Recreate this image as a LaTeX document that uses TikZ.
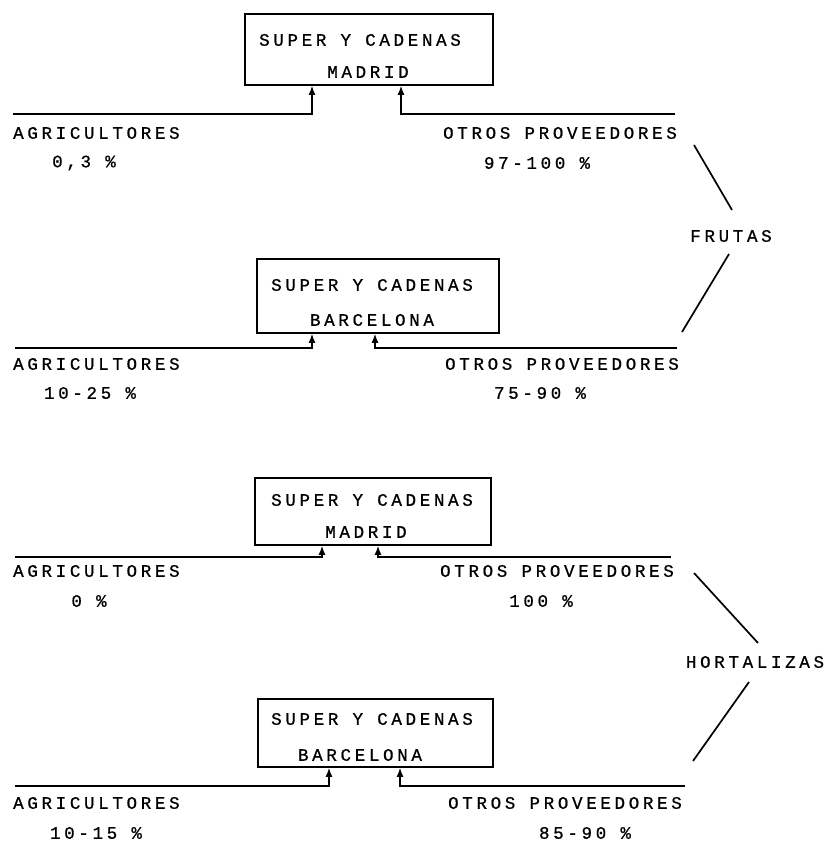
\documentclass[tikz,border=0pt]{standalone}
\usepackage{fontspec}
\usetikzlibrary{arrows.meta}
\newfontfamily\tw[LetterSpace=21,FakeBold=0.8]{Liberation Mono}
\begin{document}
\begin{tikzpicture}[x=1pt,y=-1pt,
  txt/.style={inner sep=0pt,font=\tw\fontsize{17.5}{20}\selectfont},
  boxx/.style={draw,line width=1.6pt,inner sep=0pt},
  feed/.style={line width=1.5pt,-{Latex[length=9pt,width=7pt]}},
  diag/.style={line width=1.7pt}]
\useasboundingbox (0,0) rectangle (828,845);
\fill[white] (0,0) rectangle (828,845);

% ---------- group 1 : FRUTAS / MADRID
\node[boxx,minimum width=248pt,minimum height=71pt] (b1) at (369,49.5) {};
\node[txt] (b1t) at (360,40) {SUPER Y CADENAS};
\node[txt] (b1c) at (368,72) {MADRID};
\coordinate (l1) at (13,114);
\coordinate (l1k) at (312,114);
\coordinate (r1) at (675,114);
\coordinate (r1k) at (401,114);
\draw[feed] (l1) -- (l1k) -- (l1k |- b1.south);
\draw[feed] (r1) -- (r1k) -- (r1k |- b1.south);
\node[txt,anchor=west] (a1) at (13,133) {AGRICULTORES};
\node[txt,anchor=east] (o1) at (677,133) {OTROS PROVEEDORES};
\node[txt] (p1) at (84,163) {0,3 \%};
\node[txt] (q1) at (537,163) {97-100 \%};

% ---------- group 2 : FRUTAS / BARCELONA
\node[boxx,minimum width=242pt,minimum height=74pt] (b2) at (378,296) {};
\node[txt] (b2t) at (372,285) {SUPER Y CADENAS};
\node[txt] (b2c) at (372,320) {BARCELONA};
\coordinate (l2) at (15,348);
\coordinate (l2k) at (312,348);
\coordinate (r2) at (677,348);
\coordinate (r2k) at (375,348);
\draw[feed] (l2) -- (l2k) -- (l2k |- b2.south);
\draw[feed] (r2) -- (r2k) -- (r2k |- b2.south);
\node[txt,anchor=west] (a2) at (13,364) {AGRICULTORES};
\node[txt,anchor=east] (o2) at (679,364) {OTROS PROVEEDORES};
\node[txt] (p2) at (90,393) {10-25 \%};
\node[txt] (q2) at (540,393) {75-90 \%};

% ---------- FRUTAS
\node[txt] (fr) at (731,236) {FRUTAS};
\coordinate (f1) at (694,145);
\coordinate (f2) at (732,210);
\coordinate (f3) at (729,254);
\coordinate (f4) at (682,332);
\draw[diag] (f1) -- (f2);
\draw[diag] (f3) -- (f4);

% ---------- group 3 : HORTALIZAS / MADRID
\node[boxx,minimum width=236pt,minimum height=67pt] (b3) at (373,511.5) {};
\node[txt] (b3t) at (372,500) {SUPER Y CADENAS};
\node[txt] (b3c) at (366,532) {MADRID};
\coordinate (l3) at (15,557);
\coordinate (l3k) at (322,557);
\coordinate (r3) at (671,557);
\coordinate (r3k) at (378,557);
\draw[feed] (l3) -- (l3k) -- (l3k |- b3.south);
\draw[feed] (r3) -- (r3k) -- (r3k |- b3.south);
\node[txt,anchor=west] (a3) at (13,571) {AGRICULTORES};
\node[txt,anchor=east] (o3) at (674,571) {OTROS PROVEEDORES};
\node[txt] (p3) at (89,601) {0 \%};
\node[txt] (q3) at (541,601) {100 \%};

% ---------- group 4 : HORTALIZAS / BARCELONA
\node[boxx,minimum width=235pt,minimum height=68pt] (b4) at (375.5,733) {};
\node[txt] (b4t) at (372,719) {SUPER Y CADENAS};
\node[txt] (b4c) at (360,755) {BARCELONA};
\coordinate (l4) at (15,786);
\coordinate (l4k) at (329,786);
\coordinate (r4) at (685,786);
\coordinate (r4k) at (400,786);
\draw[feed] (l4) -- (l4k) -- (l4k |- b4.south);
\draw[feed] (r4) -- (r4k) -- (r4k |- b4.south);
\node[txt,anchor=west] (a4) at (13,803) {AGRICULTORES};
\node[txt,anchor=east] (o4) at (682,803) {OTROS PROVEEDORES};
\node[txt] (p4) at (96,833) {10-15 \%};
\node[txt] (q4) at (585,833) {85-90 \%};

% ---------- HORTALIZAS
\node[txt] (ho) at (755,662) {HORTALIZAS};
\coordinate (h1) at (694,573);
\coordinate (h2) at (758,643);
\coordinate (h3) at (749,682);
\coordinate (h4) at (693,761);
\draw[diag] (h1) -- (h2);
\draw[diag] (h3) -- (h4);
\end{tikzpicture}
\end{document}
